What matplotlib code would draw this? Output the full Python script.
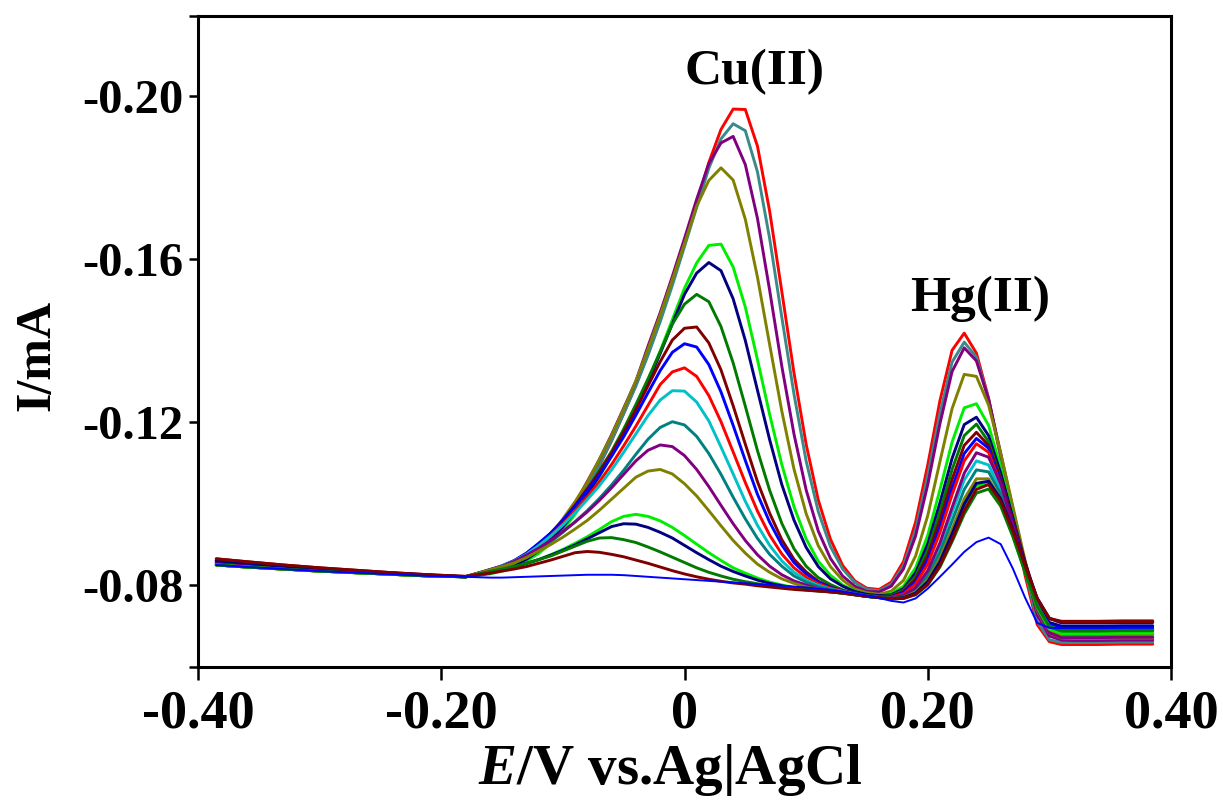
import matplotlib
matplotlib.use("Agg")
import matplotlib.pyplot as plt

# Potential grid (V vs Ag|AgCl)
potential = [-0.385, -0.36, -0.33, -0.30, -0.27, -0.24, -0.21, -0.18, -0.16,
             -0.15, -0.14, -0.13, -0.12, -0.11, -0.10, -0.09, -0.08, -0.07, -0.06,
             -0.05, -0.04, -0.03, -0.02, -0.01, 0.00, 0.01, 0.02, 0.03, 0.04,
             0.05, 0.06, 0.07, 0.08, 0.09, 0.10, 0.11, 0.12, 0.13, 0.14,
             0.15, 0.16, 0.17, 0.18, 0.19, 0.20, 0.21, 0.22, 0.23, 0.24,
             0.25, 0.26, 0.27, 0.28, 0.29, 0.30, 0.31, 0.32,
             0.34, 0.36, 0.385]

# Current (mA), curves from highest to lowest concentration
curve_01 = [-0.0855, -0.0849, -0.0843, -0.0838, -0.0833, -0.0828, -0.0824, -0.0821, -0.0830,
            -0.0837, -0.0848, -0.0863, -0.0885, -0.0912, -0.0946, -0.0989, -0.1038, -0.1093, -0.1154,
            -0.1221, -0.1291, -0.1367, -0.1450, -0.1542, -0.1637, -0.1737, -0.1836, -0.1917, -0.1967,
            -0.1966, -0.1876, -0.1717, -0.1520, -0.1321, -0.1146, -0.1009, -0.0913, -0.0849, -0.0811,
            -0.0793, -0.0790, -0.0808, -0.0858, -0.0955, -0.1095, -0.1252, -0.1376, -0.1418, -0.1369,
            -0.1259, -0.1113, -0.0968, -0.0825, -0.0704, -0.0662, -0.0655, -0.0655,
            -0.0655, -0.0656, -0.0656]
curve_02 = [-0.0860, -0.0854, -0.0847, -0.0840, -0.0835, -0.0830, -0.0825, -0.0821, -0.0830,
            -0.0837, -0.0849, -0.0865, -0.0887, -0.0913, -0.0948, -0.0992, -0.1040, -0.1095, -0.1155,
            -0.1221, -0.1288, -0.1364, -0.1446, -0.1535, -0.1630, -0.1726, -0.1822, -0.1894, -0.1931,
            -0.1914, -0.1813, -0.1650, -0.1457, -0.1269, -0.1105, -0.0981, -0.0895, -0.0840, -0.0807,
            -0.0790, -0.0787, -0.0803, -0.0848, -0.0936, -0.1069, -0.1221, -0.1347, -0.1396, -0.1359,
            -0.1256, -0.1116, -0.0976, -0.0837, -0.0712, -0.0667, -0.0660, -0.0660,
            -0.0660, -0.0661, -0.0661]
curve_03 = [-0.0855, -0.0849, -0.0843, -0.0838, -0.0833, -0.0828, -0.0824, -0.0821, -0.0831,
            -0.0839, -0.0851, -0.0869, -0.0892, -0.0921, -0.0957, -0.1000, -0.1054, -0.1108, -0.1169,
            -0.1234, -0.1300, -0.1386, -0.1468, -0.1557, -0.1650, -0.1746, -0.1833, -0.1884, -0.1900,
            -0.1831, -0.1699, -0.1523, -0.1337, -0.1171, -0.1034, -0.0933, -0.0866, -0.0823, -0.0798,
            -0.0785, -0.0784, -0.0798, -0.0840, -0.0921, -0.1047, -0.1196, -0.1324, -0.1382, -0.1350,
            -0.1256, -0.1123, -0.0987, -0.0851, -0.0727, -0.0676, -0.0666, -0.0665,
            -0.0665, -0.0666, -0.0666]
curve_04 = [-0.0850, -0.0845, -0.0840, -0.0835, -0.0831, -0.0827, -0.0823, -0.0821, -0.0832,
            -0.0841, -0.0853, -0.0869, -0.0895, -0.0923, -0.0963, -0.1005, -0.1052, -0.1109, -0.1167,
            -0.1232, -0.1301, -0.1379, -0.1462, -0.1549, -0.1638, -0.1729, -0.1792, -0.1823, -0.1793,
            -0.1697, -0.1555, -0.1390, -0.1227, -0.1085, -0.0976, -0.0897, -0.0846, -0.0813, -0.0791,
            -0.0782, -0.0778, -0.0786, -0.0812, -0.0872, -0.0971, -0.1103, -0.1233, -0.1317, -0.1312,
            -0.1242, -0.1124, -0.0993, -0.0861, -0.0740, -0.0683, -0.0671, -0.0670,
            -0.0670, -0.0671, -0.0671]
curve_05 = [-0.0850, -0.0845, -0.0840, -0.0835, -0.0831, -0.0827, -0.0823, -0.0821, -0.0828,
            -0.0835, -0.0845, -0.0860, -0.0878, -0.0903, -0.0936, -0.0974, -0.1018, -0.1066, -0.1118,
            -0.1172, -0.1233, -0.1301, -0.1374, -0.1451, -0.1528, -0.1590, -0.1633, -0.1636, -0.1580,
            -0.1482, -0.1353, -0.1219, -0.1096, -0.0993, -0.0914, -0.0859, -0.0825, -0.0801, -0.0786,
            -0.0778, -0.0775, -0.0780, -0.0798, -0.0843, -0.0923, -0.1034, -0.1151, -0.1235, -0.1245,
            -0.1192, -0.1089, -0.0969, -0.0850, -0.0739, -0.0686, -0.0676, -0.0675,
            -0.0675, -0.0675, -0.0676]
curve_06 = [-0.0860, -0.0854, -0.0847, -0.0840, -0.0835, -0.0830, -0.0825, -0.0821, -0.0830,
            -0.0837, -0.0849, -0.0864, -0.0884, -0.0912, -0.0943, -0.0980, -0.1022, -0.1069, -0.1119,
            -0.1172, -0.1233, -0.1298, -0.1368, -0.1441, -0.1513, -0.1565, -0.1591, -0.1571, -0.1502,
            -0.1400, -0.1278, -0.1157, -0.1047, -0.0960, -0.0893, -0.0846, -0.0816, -0.0798, -0.0785,
            -0.0778, -0.0775, -0.0777, -0.0792, -0.0831, -0.0902, -0.1002, -0.1111, -0.1194, -0.1212,
            -0.1167, -0.1075, -0.0966, -0.0856, -0.0756, -0.0709, -0.0700, -0.0700,
            -0.0700, -0.0701, -0.0701]
curve_07 = [-0.0850, -0.0845, -0.0840, -0.0835, -0.0831, -0.0827, -0.0823, -0.0821, -0.0833,
            -0.0841, -0.0854, -0.0872, -0.0894, -0.0922, -0.0955, -0.0993, -0.1035, -0.1081, -0.1128,
            -0.1183, -0.1243, -0.1306, -0.1372, -0.1440, -0.1489, -0.1513, -0.1495, -0.1434, -0.1345,
            -0.1239, -0.1130, -0.1033, -0.0952, -0.0890, -0.0847, -0.0819, -0.0802, -0.0789, -0.0781,
            -0.0775, -0.0773, -0.0775, -0.0788, -0.0822, -0.0887, -0.0980, -0.1084, -0.1167, -0.1195,
            -0.1152, -0.1062, -0.0953, -0.0844, -0.0743, -0.0697, -0.0690, -0.0690,
            -0.0690, -0.0691, -0.0691]
curve_08 = [-0.0865, -0.0858, -0.0850, -0.0843, -0.0837, -0.0831, -0.0826, -0.0822, -0.0837,
            -0.0847, -0.0860, -0.0878, -0.0900, -0.0928, -0.0959, -0.0996, -0.1036, -0.1077, -0.1124,
            -0.1175, -0.1230, -0.1289, -0.1348, -0.1401, -0.1430, -0.1433, -0.1394, -0.1328, -0.1240,
            -0.1146, -0.1054, -0.0977, -0.0912, -0.0864, -0.0833, -0.0810, -0.0796, -0.0787, -0.0780,
            -0.0774, -0.0772, -0.0773, -0.0785, -0.0815, -0.0873, -0.0960, -0.1060, -0.1143, -0.1175,
            -0.1143, -0.1061, -0.0960, -0.0858, -0.0764, -0.0719, -0.0712, -0.0712,
            -0.0712, -0.0713, -0.0713]
curve_09 = [-0.0855, -0.0849, -0.0843, -0.0838, -0.0833, -0.0828, -0.0824, -0.0821, -0.0838,
            -0.0848, -0.0861, -0.0879, -0.0903, -0.0928, -0.0960, -0.0994, -0.1032, -0.1070, -0.1116,
            -0.1164, -0.1217, -0.1272, -0.1326, -0.1371, -0.1392, -0.1384, -0.1341, -0.1274, -0.1192,
            -0.1106, -0.1023, -0.0955, -0.0899, -0.0856, -0.0828, -0.0808, -0.0795, -0.0786, -0.0780,
            -0.0774, -0.0771, -0.0772, -0.0782, -0.0809, -0.0862, -0.0943, -0.1039, -0.1123, -0.1160,
            -0.1136, -0.1053, -0.0951, -0.0848, -0.0751, -0.0703, -0.0695, -0.0695,
            -0.0695, -0.0696, -0.0696]
curve_10 = [-0.0850, -0.0845, -0.0840, -0.0835, -0.0831, -0.0827, -0.0823, -0.0821, -0.0837,
            -0.0846, -0.0858, -0.0875, -0.0897, -0.0921, -0.0950, -0.0982, -0.1017, -0.1054, -0.1096,
            -0.1142, -0.1190, -0.1241, -0.1292, -0.1323, -0.1333, -0.1312, -0.1265, -0.1201, -0.1127,
            -0.1052, -0.0982, -0.0923, -0.0877, -0.0843, -0.0820, -0.0804, -0.0793, -0.0786, -0.0779,
            -0.0774, -0.0771, -0.0771, -0.0779, -0.0803, -0.0852, -0.0929, -0.1022, -0.1105, -0.1147,
            -0.1126, -0.1048, -0.0944, -0.0839, -0.0741, -0.0689, -0.0680, -0.0680,
            -0.0680, -0.0681, -0.0681]
curve_11 = [-0.0855, -0.0849, -0.0843, -0.0838, -0.0833, -0.0828, -0.0824, -0.0821, -0.0838,
            -0.0848, -0.0860, -0.0876, -0.0897, -0.0921, -0.0948, -0.0978, -0.1010, -0.1044, -0.1083,
            -0.1126, -0.1171, -0.1216, -0.1254, -0.1277, -0.1276, -0.1249, -0.1203, -0.1139, -0.1073,
            -0.1006, -0.0947, -0.0898, -0.0860, -0.0832, -0.0813, -0.0800, -0.0791, -0.0785, -0.0779,
            -0.0774, -0.0770, -0.0769, -0.0775, -0.0793, -0.0831, -0.0896, -0.0979, -0.1058, -0.1105,
            -0.1095, -0.1034, -0.0938, -0.0840, -0.0747, -0.0695, -0.0685, -0.0685,
            -0.0685, -0.0686, -0.0686]
curve_12 = [-0.0860, -0.0854, -0.0847, -0.0840, -0.0835, -0.0830, -0.0825, -0.0821, -0.0836,
            -0.0844, -0.0855, -0.0869, -0.0887, -0.0907, -0.0930, -0.0956, -0.0983, -0.1013, -0.1046,
            -0.1082, -0.1121, -0.1158, -0.1187, -0.1201, -0.1193, -0.1165, -0.1123, -0.1072, -0.1016,
            -0.0963, -0.0915, -0.0876, -0.0847, -0.0823, -0.0808, -0.0797, -0.0790, -0.0784, -0.0778,
            -0.0773, -0.0770, -0.0769, -0.0772, -0.0788, -0.0823, -0.0881, -0.0958, -0.1035, -0.1083,
            -0.1078, -0.1024, -0.0934, -0.0841, -0.0752, -0.0700, -0.0690, -0.0690,
            -0.0690, -0.0691, -0.0691]
curve_13 = [-0.0855, -0.0849, -0.0843, -0.0838, -0.0833, -0.0828, -0.0824, -0.0821, -0.0839,
            -0.0847, -0.0859, -0.0874, -0.0891, -0.0910, -0.0932, -0.0955, -0.0980, -0.1008, -0.1039,
            -0.1072, -0.1105, -0.1131, -0.1144, -0.1140, -0.1118, -0.1084, -0.1042, -0.0996, -0.0951,
            -0.0910, -0.0875, -0.0847, -0.0826, -0.0811, -0.0801, -0.0792, -0.0787, -0.0783, -0.0778,
            -0.0773, -0.0770, -0.0770, -0.0775, -0.0794, -0.0836, -0.0904, -0.0991, -0.1075, -0.1125,
            -0.1114, -0.1049, -0.0947, -0.0842, -0.0742, -0.0684, -0.0672, -0.0672,
            -0.0672, -0.0673, -0.0673]
curve_14 = [-0.0850, -0.0845, -0.0840, -0.0835, -0.0831, -0.0827, -0.0823, -0.0821, -0.0838,
            -0.0846, -0.0855, -0.0868, -0.0884, -0.0900, -0.0918, -0.0938, -0.0959, -0.0984, -0.1011,
            -0.1038, -0.1065, -0.1080, -0.1084, -0.1073, -0.1049, -0.1019, -0.0983, -0.0946, -0.0910,
            -0.0879, -0.0852, -0.0832, -0.0816, -0.0805, -0.0796, -0.0791, -0.0786, -0.0782, -0.0777,
            -0.0773, -0.0770, -0.0768, -0.0771, -0.0784, -0.0814, -0.0867, -0.0938, -0.1012, -0.1061,
            -0.1061, -0.1012, -0.0927, -0.0836, -0.0748, -0.0692, -0.0680, -0.0680,
            -0.0680, -0.0681, -0.0681]
curve_15 = [-0.0850, -0.0845, -0.0840, -0.0835, -0.0831, -0.0827, -0.0823, -0.0821, -0.0831,
            -0.0837, -0.0844, -0.0853, -0.0863, -0.0875, -0.0888, -0.0903, -0.0919, -0.0937, -0.0956,
            -0.0969, -0.0974, -0.0969, -0.0958, -0.0942, -0.0922, -0.0901, -0.0880, -0.0861, -0.0843,
            -0.0830, -0.0818, -0.0808, -0.0801, -0.0795, -0.0791, -0.0788, -0.0785, -0.0781, -0.0777,
            -0.0773, -0.0770, -0.0768, -0.0769, -0.0780, -0.0807, -0.0856, -0.0922, -0.0993, -0.1044,
            -0.1048, -0.1003, -0.0922, -0.0833, -0.0746, -0.0693, -0.0682, -0.0682,
            -0.0682, -0.0683, -0.0683]
curve_16 = [-0.0860, -0.0854, -0.0847, -0.0840, -0.0835, -0.0830, -0.0825, -0.0821, -0.0833,
            -0.0838, -0.0845, -0.0854, -0.0863, -0.0874, -0.0886, -0.0899, -0.0914, -0.0929, -0.0944,
            -0.0951, -0.0950, -0.0942, -0.0930, -0.0916, -0.0898, -0.0880, -0.0863, -0.0847, -0.0834,
            -0.0823, -0.0813, -0.0805, -0.0799, -0.0794, -0.0790, -0.0787, -0.0784, -0.0781, -0.0777,
            -0.0773, -0.0770, -0.0768, -0.0770, -0.0781, -0.0809, -0.0858, -0.0926, -0.0999, -0.1050,
            -0.1055, -0.1012, -0.0936, -0.0851, -0.0769, -0.0719, -0.0708, -0.0708,
            -0.0708, -0.0709, -0.0709]
curve_17 = [-0.0850, -0.0845, -0.0840, -0.0835, -0.0831, -0.0827, -0.0823, -0.0821, -0.0834,
            -0.0840, -0.0846, -0.0854, -0.0863, -0.0872, -0.0884, -0.0896, -0.0908, -0.0916, -0.0917,
            -0.0912, -0.0905, -0.0894, -0.0882, -0.0869, -0.0856, -0.0843, -0.0832, -0.0823, -0.0815,
            -0.0809, -0.0804, -0.0799, -0.0795, -0.0792, -0.0789, -0.0786, -0.0784, -0.0781, -0.0777,
            -0.0773, -0.0770, -0.0767, -0.0768, -0.0777, -0.0801, -0.0845, -0.0907, -0.0975, -0.1026,
            -0.1036, -0.0994, -0.0919, -0.0832, -0.0749, -0.0698, -0.0688, -0.0688,
            -0.0688, -0.0689, -0.0689]
curve_18 = [-0.0865, -0.0858, -0.0850, -0.0843, -0.0837, -0.0831, -0.0826, -0.0822, -0.0830,
            -0.0835, -0.0840, -0.0846, -0.0854, -0.0862, -0.0871, -0.0880, -0.0883, -0.0881, -0.0876,
            -0.0870, -0.0862, -0.0854, -0.0845, -0.0836, -0.0828, -0.0821, -0.0815, -0.0810, -0.0806,
            -0.0803, -0.0799, -0.0796, -0.0793, -0.0790, -0.0788, -0.0786, -0.0784, -0.0781, -0.0777,
            -0.0773, -0.0770, -0.0767, -0.0768, -0.0778, -0.0803, -0.0848, -0.0912, -0.0983, -0.1035,
            -0.1047, -0.1006, -0.0933, -0.0849, -0.0768, -0.0719, -0.0710, -0.0710,
            -0.0710, -0.0711, -0.0711]
curve_19 = [-0.0850, -0.0845, -0.0840, -0.0835, -0.0831, -0.0827, -0.0823, -0.0821, -0.0819,
            -0.0819, -0.0820, -0.0821, -0.0822, -0.0823, -0.0824, -0.0825, -0.0826, -0.0826, -0.0826,
            -0.0825, -0.0823, -0.0821, -0.0819, -0.0817, -0.0815, -0.0813, -0.0811, -0.0809, -0.0807,
            -0.0805, -0.0803, -0.0801, -0.0799, -0.0797, -0.0795, -0.0792, -0.0789, -0.0785, -0.0780,
            -0.0775, -0.0769, -0.0762, -0.0758, -0.0768, -0.0792, -0.0821, -0.0851, -0.0882, -0.0906,
            -0.0917, -0.0901, -0.0841, -0.0770, -0.0708, -0.0696, -0.0695, -0.0695,
            -0.0695, -0.0696, -0.0696]

curve_colors = ['#ff0000', '#3a8a8a', '#800080', '#808000', '#00ee00', '#000080',
                '#007a00', '#800000', '#0000ff', '#ff0000', '#00c0c8', '#008080',
                '#800080', '#808000', '#00ee00', '#000080', '#007a00', '#800000',
                '#0000ff']

x_ticks = [-0.40, -0.20, 0.0, 0.20, 0.40]
x_tick_labels = ['-0.40', '-0.20', '0', '0.20', '0.40']
y_ticks = [-0.2195, -0.20, -0.16, -0.12, -0.08, -0.06]
y_tick_labels = ['', '-0.20', '-0.16', '-0.12', '-0.08', '']

curves = [curve_01, curve_02, curve_03, curve_04, curve_05, curve_06, curve_07,
          curve_08, curve_09, curve_10, curve_11, curve_12, curve_13, curve_14,
          curve_15, curve_16, curve_17, curve_18, curve_19]

plt.rcParams['font.family'] = ['Liberation Serif', 'DejaVu Serif']
plt.rcParams['font.weight'] = 'bold'
plt.rcParams['mathtext.fontset'] = 'custom'
plt.rcParams['mathtext.rm'] = 'Liberation Serif:bold'
plt.rcParams['mathtext.it'] = 'Liberation Serif:italic:bold'
plt.rcParams['mathtext.bf'] = 'Liberation Serif:bold'

W, H = 1223, 807
fig = plt.figure(figsize=(W / 100, H / 100), dpi=100)
L, R, T, B = 198, 1171, 16, 667
ax = fig.add_axes([L / W, 1 - B / H, (R - L) / W, (B - T) / H])

for i, (ys, col) in enumerate(zip(curves, curve_colors)):
    lw = 1.4 if i == len(curves) - 1 else 2.1
    ax.plot(potential, ys, color=col, lw=lw, solid_joinstyle='round',
            solid_capstyle='round')

ax.set_xlim(-0.40, 0.40)
ax.set_ylim(-0.06, -0.2195)
ax.set_xticks(x_ticks)
ax.set_xticklabels(x_tick_labels)
ax.set_yticks(y_ticks)
ax.set_yticklabels(y_tick_labels)

for s in ax.spines.values():
    s.set_linewidth(2.2)
ax.tick_params(axis='x', direction='out', length=9.5, width=1.8, pad=7,
               labelsize=39)
ax.tick_params(axis='y', direction='out', length=6.5, width=1.8, pad=4,
               labelsize=35)
for lab in ax.get_xticklabels() + ax.get_yticklabels():
    lab.set_fontweight('bold')

ax.text(0.0575, -0.2058, 'Cu(II)', ha='center', va='center', fontsize=37,
        fontweight='bold')
ax.text(0.243, -0.1501, 'Hg(II)', ha='center', va='center', fontsize=37,
        fontweight='bold')

fig.text(670 / W, 1 - 770 / H, r'$\mathit{E}$/V vs.Ag|AgCl', ha='center',
         va='center', fontsize=41, fontweight='bold')
fig.text(37 / W, 1 - 355 / H, 'I/mA', ha='center', va='center', fontsize=36,
         fontweight='bold', rotation=90)

fig.savefig('out.png', dpi=100)
